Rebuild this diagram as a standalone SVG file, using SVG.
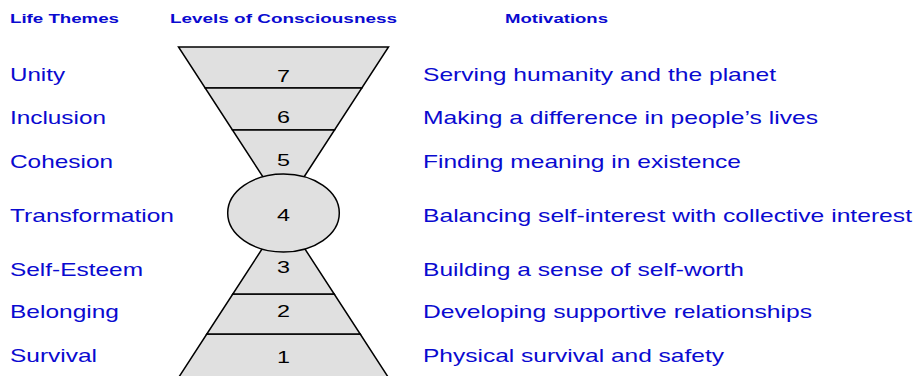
<svg xmlns="http://www.w3.org/2000/svg" width="914" height="376" viewBox="0 0 914 376">
  <style>
    .hdr { font-family: "Liberation Sans", Arial, sans-serif; font-weight: bold; font-size: 13px; fill: #0a0ad0; }
    .lbl { font-family: "Liberation Sans", Arial, sans-serif; font-size: 19px; fill: #0a0ad0; }
    .num { font-family: "Liberation Sans", Arial, sans-serif; font-size: 17px; fill: #000; text-anchor: middle; }
    .seg { fill: #e0e0e0; stroke: #000; stroke-width: 1.5; stroke-linejoin: miter; }
  </style>
  <rect width="914" height="376" fill="#fff"/>

  <!-- column headings -->
  <g id="headings">
    <text class="hdr" x="10" y="22.5" textLength="109" lengthAdjust="spacingAndGlyphs">Life Themes</text>
    <text class="hdr" x="170" y="22.5" textLength="227" lengthAdjust="spacingAndGlyphs">Levels of Consciousness</text>
    <text class="hdr" x="505" y="22.5" textLength="103" lengthAdjust="spacingAndGlyphs">Motivations</text>
  </g>

  <!-- upper funnel -->
  <g id="level7">
    <polygon class="seg" points="178.5,47 388.5,47 361.85,88 205.15,88"/>
    <text class="num" x="283.5" y="82" textLength="13" lengthAdjust="spacingAndGlyphs">7</text>
    <text class="lbl" x="10" y="81" textLength="55" lengthAdjust="spacingAndGlyphs">Unity</text>
    <text class="lbl" x="423" y="81" textLength="353" lengthAdjust="spacingAndGlyphs">Serving humanity and the planet</text>
  </g>
  <g id="level6">
    <polygon class="seg" points="205.15,88 361.85,88 334.55,130 232.45,130"/>
    <text class="num" x="283.5" y="122.5" textLength="13" lengthAdjust="spacingAndGlyphs">6</text>
    <text class="lbl" x="10" y="123.5" textLength="96" lengthAdjust="spacingAndGlyphs">Inclusion</text>
    <text class="lbl" x="423" y="123.5" textLength="395" lengthAdjust="spacingAndGlyphs">Making a difference in people’s lives</text>
  </g>
  <g id="level5">
    <polygon class="seg" points="232.45,130 334.55,130 283.5,208.5"/>
    <text class="num" x="283.5" y="166" textLength="13" lengthAdjust="spacingAndGlyphs">5</text>
    <text class="lbl" x="10" y="167.5" textLength="103" lengthAdjust="spacingAndGlyphs">Cohesion</text>
    <text class="lbl" x="423" y="167.5" textLength="318" lengthAdjust="spacingAndGlyphs">Finding meaning in existence</text>
  </g>

  <!-- lower pyramid -->
  <g id="level1">
    <polygon class="seg" points="206.8,334 360.2,334 390,380 177,380"/>
    <text class="num" x="283.5" y="363" textLength="13" lengthAdjust="spacingAndGlyphs">1</text>
    <text class="lbl" x="10" y="362" textLength="87" lengthAdjust="spacingAndGlyphs">Survival</text>
    <text class="lbl" x="423" y="362" textLength="301" lengthAdjust="spacingAndGlyphs">Physical survival and safety</text>
  </g>
  <g id="level2">
    <polygon class="seg" points="232.8,294 334.2,294 360.2,334 206.8,334"/>
    <text class="num" x="283.5" y="317" textLength="13" lengthAdjust="spacingAndGlyphs">2</text>
    <text class="lbl" x="10" y="318" textLength="109" lengthAdjust="spacingAndGlyphs">Belonging</text>
    <text class="lbl" x="423" y="318" textLength="389" lengthAdjust="spacingAndGlyphs">Developing supportive relationships</text>
  </g>
  <g id="level3">
    <polygon class="seg" points="283.5,216 334.2,294 232.8,294"/>
    <text class="num" x="283.5" y="273" textLength="13" lengthAdjust="spacingAndGlyphs">3</text>
    <text class="lbl" x="10" y="276" textLength="133" lengthAdjust="spacingAndGlyphs">Self-Esteem</text>
    <text class="lbl" x="423" y="276" textLength="321" lengthAdjust="spacingAndGlyphs">Building a sense of self-worth</text>
  </g>

  <!-- pivot level sits over both apexes -->
  <g id="level4">
    <ellipse class="seg" cx="283.5" cy="213" rx="55.8" ry="39"/>
    <text class="num" x="283.5" y="221" textLength="13" lengthAdjust="spacingAndGlyphs">4</text>
    <text class="lbl" x="10" y="222" textLength="164" lengthAdjust="spacingAndGlyphs">Transformation</text>
    <text class="lbl" x="423" y="222" textLength="489" lengthAdjust="spacingAndGlyphs">Balancing self-interest with collective interest</text>
  </g>

  <g id="connectors"/>
</svg>
